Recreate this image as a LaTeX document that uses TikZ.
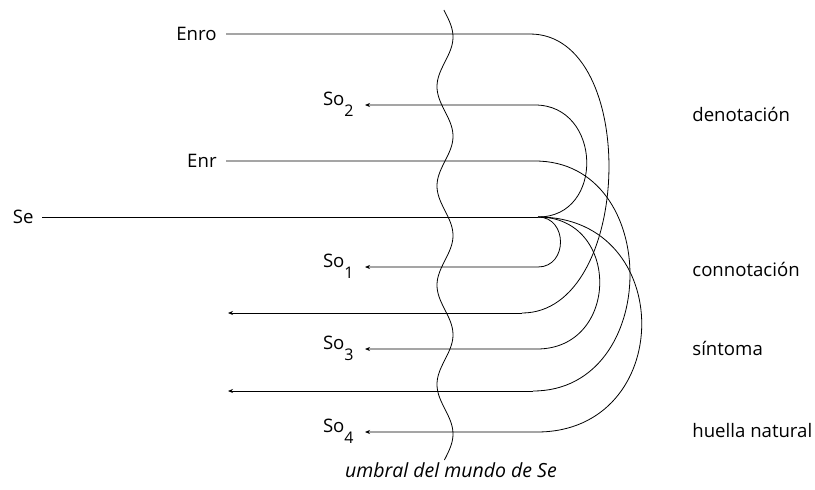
\documentclass[tikz,border=0pt]{standalone}
\usepackage{fontspec}
\setmainfont{Open Sans}
\usetikzlibrary{arrows.meta}
\newcommand{\lowidx}[1]{\raisebox{-11.5pt}{\fontsize{16}{16}\selectfont #1}}
\begin{document}
\begin{tikzpicture}[x=1pt,y=-1pt,line width=0.8pt,
  lbl/.style={font=\fontsize{18.6}{22}\selectfont, inner sep=0pt},
  tip/.style={-{Stealth[length=5pt,width=4pt]}}]
\useasboundingbox (0,0) rectangle (815,490);
% threshold
\draw plot[domain=10:460, samples=200, smooth] ({445+8*cos(3.627*(\x-37))}, \x);
% left labels
\node[lbl, anchor=east] (enro) at (217,34) {Enro};
\node[lbl, anchor=east] (enr) at (217,161) {Enr};
\node[lbl, anchor=east] (se) at (34,217) {Se};
\node[lbl, anchor=base east] (so2) at (354,105) {So\lowidx{2}};
\node[lbl, anchor=base east] (so1) at (354,267) {So\lowidx{1}};
\node[lbl, anchor=base east] (so3) at (354,349) {So\lowidx{3}};
\node[lbl, anchor=base east] (so4) at (354,432) {So\lowidx{4}};
% right labels
\node[lbl, anchor=base west] (den) at (692,121) {denotación};
\node[lbl, anchor=base west] (con) at (692,276) {connotación};
\node[lbl, anchor=base west] (sin) at (692,355) {síntoma};
\node[lbl, anchor=base west] (hue) at (692,437) {huella natural};
\node[lbl, font=\fontsize{19.5}{22}\selectfont\itshape, anchor=base] (umb) at (451,477) {umbral del mundo de Se};
% coordinates
\coordinate (J) at (538,217);
\coordinate (a1) at (530,34);
\coordinate (b1) at (522,313);
\coordinate (t1) at (228,313);
\coordinate (a2) at (535,161);
\coordinate (b2) at (533,391);
\coordinate (t2) at (228,391);
\coordinate (e2) at (535,105);
\coordinate (e1) at (538,267);
\coordinate (e3) at (537,349);
\coordinate (e4) at (537,432);
% lines
\draw ([xshift=9pt]enro.east) -- (a1) .. controls +(110,0) and +(111,0) .. (b1);
\draw[tip] (b1) -- (t1);
\draw ([xshift=9pt]enr.east) -- (a2) .. controls +(128,0) and +(128,0) .. (b2);
\draw[tip] (b2) -- (t2);
\draw ([xshift=8pt]se.east) -- (J);
\draw[tip] (J) .. controls +(67,0) and +(67,0) .. (e2) -- ([xshift=11pt]so2.base east);
\draw[tip] (J) .. controls +(30,0) and +(30,0) .. (e1) -- ([xshift=11pt]so1.base east);
\draw[tip] (J) .. controls +(83,0) and +(83,0) .. (e3) -- ([xshift=11pt]so3.base east);
\draw[tip] (J) .. controls +(139,0) and +(139,0) .. (e4) -- ([xshift=11pt]so4.base east);
\end{tikzpicture}
\end{document}
